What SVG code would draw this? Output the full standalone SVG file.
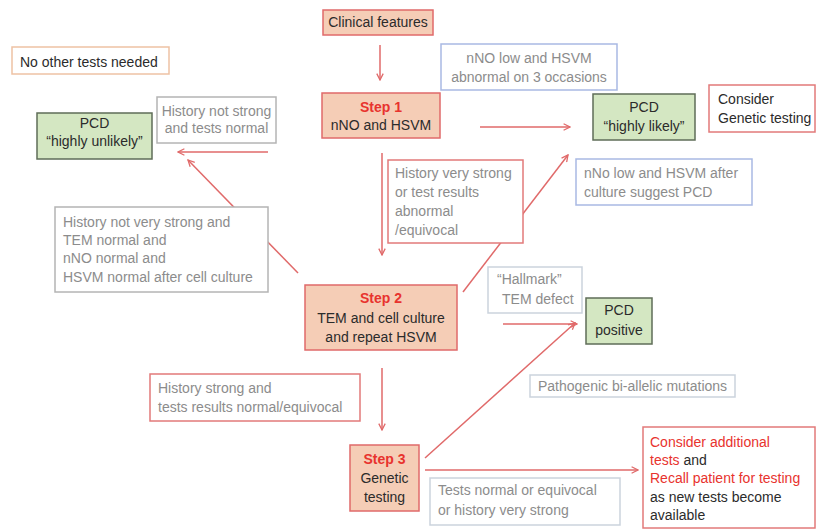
<svg xmlns="http://www.w3.org/2000/svg" width="817" height="529" viewBox="0 0 817 529">
<defs>
<marker id="ah" viewBox="0 0 10 10" refX="9" refY="5" markerWidth="8" markerHeight="8" markerUnits="userSpaceOnUse" orient="auto">
<path d="M1,1 L9,5 L1,9" fill="none" stroke="#e06a6a" stroke-width="1.6"/>
</marker>
</defs>
<style>
text{font-family:"Liberation Sans",Arial,sans-serif;font-size:14px;fill:#2b2b2b}
.step rect{fill:#f5cdb6;stroke:#e06a6a;stroke-width:1.5}
.green rect{fill:#d4e7c2;stroke:#5f6d58;stroke-width:1.5}
.lbl rect{fill:#ffffff;stroke-width:1.5}
.grey{stroke:#b4b4b4}
.blue{stroke:#a9b9e3}
.red{stroke:#e27a7a}
.pale{stroke:#cbd3dd}
.orange{stroke:#eec2a4}
.g{fill:#8c8c8c}
.r{fill:#e8332e}
.sb{fill:#e8332e;font-weight:bold}
.c{text-anchor:middle}
#connectors line{stroke:#e06a6a;stroke-width:1.5;marker-end:url(#ah)}
</style>
<rect width="817" height="529" fill="#ffffff"/>

<g id="connectors">
<line x1="380" y1="45" x2="380" y2="80"/>
<line x1="268" y1="152" x2="178" y2="152"/>
<line x1="480" y1="127" x2="570" y2="127"/>
<line x1="382" y1="153" x2="382" y2="255"/>
<line x1="298" y1="273" x2="188" y2="160"/>
<line x1="463" y1="292" x2="568" y2="155"/>
<line x1="503" y1="324" x2="577" y2="324"/>
<line x1="382" y1="368" x2="382" y2="430"/>
<line x1="425" y1="458" x2="575" y2="323"/>
<line x1="425" y1="470" x2="638" y2="470"/>
</g>

<g id="clinical" class="step"><rect x="323" y="10" width="110" height="25"/><text x="378" y="27" class="c">Clinical features</text></g>

<g id="no-other-tests" class="lbl"><rect x="12" y="47" width="157" height="27" class="orange"/><text x="20" y="67">No other tests needed</text></g>

<g id="pcd-unlikely" class="green"><rect x="37" y="113" width="115" height="46"/><text x="94.5" y="128" class="c">PCD</text><text x="94.5" y="146" class="c">“highly unlikely”</text></g>

<g id="hist-not-strong" class="lbl"><rect x="157" y="97" width="119" height="46" class="grey"/><text x="216.5" y="116" class="c g">History not strong</text><text x="216.5" y="133" class="c g">and tests normal</text></g>

<g id="step1" class="step"><rect x="322" y="93" width="118" height="45"/><text x="381" y="112" class="c sb">Step 1</text><text x="381" y="130" class="c">nNO and HSVM</text></g>

<g id="nno-low-3" class="lbl"><rect x="441" y="44" width="176" height="46" class="blue"/><text x="529" y="63" class="c g">nNO low and HSVM</text><text x="529" y="82" class="c g">abnormal on 3 occasions</text></g>

<g id="pcd-likely" class="green"><rect x="593" y="94" width="102" height="46"/><text x="644" y="112" class="c">PCD</text><text x="644" y="131" class="c">“highly likely”</text></g>

<g id="consider-genetic" class="lbl"><rect x="709" y="85" width="106" height="47" class="red"/><text x="718" y="104">Consider</text><text x="718" y="123">Genetic testing</text></g>

<g id="hist-very-strong" class="lbl"><rect x="388" y="160" width="135" height="83" class="red"/><text x="395" y="178" class="g">History very strong</text><text x="395" y="197" class="g">or test results</text><text x="395" y="216" class="g">abnormal</text><text x="395" y="235" class="g">/equivocal</text></g>

<g id="nno-after-culture" class="lbl"><rect x="576" y="159" width="176" height="46" class="blue"/><text x="584" y="178" class="g">nNo low and HSVM after</text><text x="584" y="197" class="g">culture suggest PCD</text></g>

<g id="hist-not-very-strong" class="lbl"><rect x="55" y="207" width="213" height="85" class="grey"/><text x="63" y="227" class="g">History not very strong and</text><text x="63" y="245" class="g">TEM normal and</text><text x="63" y="263" class="g">nNO normal and</text><text x="63" y="282" class="g">HSVM normal after cell culture</text></g>

<g id="step2" class="step"><rect x="305" y="285" width="152" height="65"/><text x="381" y="303" class="c sb">Step 2</text><text x="381" y="323" class="c">TEM and cell culture</text><text x="381" y="342" class="c">and repeat HSVM</text></g>

<g id="hallmark" class="lbl"><rect x="488" y="267" width="94" height="46" class="pale"/><text x="497" y="284" class="g">“Hallmark”</text><text x="502" y="304" class="g">TEM defect</text></g>

<g id="pcd-positive" class="green"><rect x="586" y="298" width="66" height="46"/><text x="619" y="315" class="c">PCD</text><text x="619" y="335" class="c">positive</text></g>

<g id="hist-strong" class="lbl"><rect x="150" y="374" width="210" height="47" class="red"/><text x="158" y="393" class="g">History strong and</text><text x="158" y="412" class="g">tests results normal/equivocal</text></g>

<g id="pathogenic" class="lbl"><rect x="530" y="375" width="205" height="22" class="pale"/><text x="538" y="391" class="g">Pathogenic bi-allelic mutations</text></g>

<g id="step3" class="step"><rect x="350" y="445" width="69" height="66"/><text x="384.5" y="464" class="c sb">Step 3</text><text x="384.5" y="483" class="c">Genetic</text><text x="384.5" y="502" class="c">testing</text></g>

<g id="tests-normal" class="lbl"><rect x="430" y="478" width="190" height="47" class="pale"/><text x="438" y="495" class="g">Tests normal or equivocal</text><text x="438" y="515" class="g">or history very strong</text></g>

<g id="consider-additional" class="lbl"><rect x="643" y="427" width="172" height="101" class="red"/><text x="650" y="447" class="r">Consider additional</text><text x="650" y="465"><tspan class="r">tests</tspan> and</text><text x="650" y="483" class="r">Recall patient for testing</text><text x="650" y="502">as new tests become</text><text x="650" y="520">available</text></g>
</svg>
